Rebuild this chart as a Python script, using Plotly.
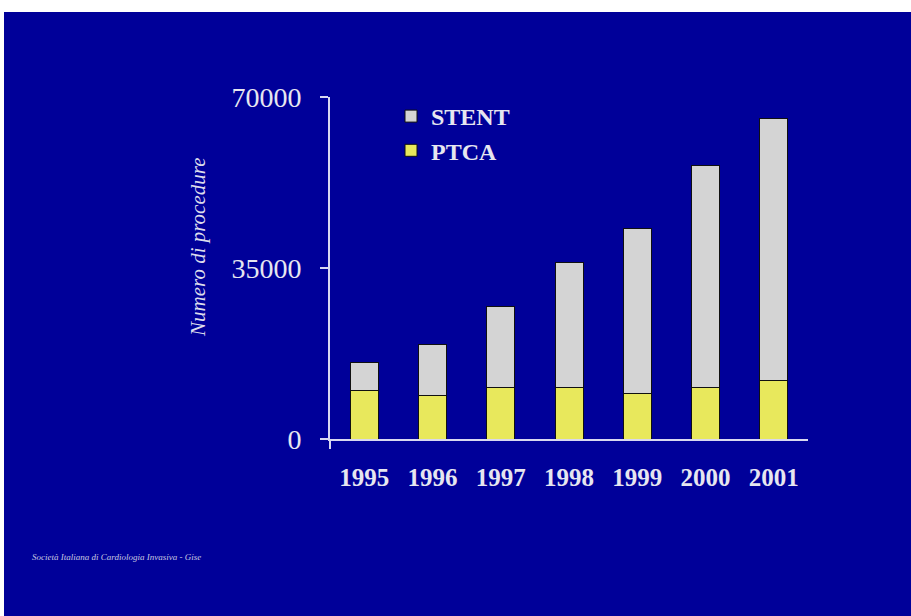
import plotly.graph_objects as go

# Procedure counts per year (stacked: PTCA at the base, STENT on top)
years = ["1995", "1996", "1997", "1998", "1999", "2000", "2001"]
ptca = [10000, 9000, 10600, 10600, 9400, 10600, 11900]
stent = [5700, 10400, 16500, 25600, 33600, 45300, 53600]
y_ticks = [0, 35000, 70000]

BG = "#000099"
FG = "#e6e6f0"
LINE = "#d8d8f0"

# plot-area geometry in pixels (used for placing decorations)
W, H = 911, 616
L, R, T, B = 330, 103, 97, 177
PW, PH = W - L - R, H - T - B


def px_x(p):
    return (p - L) / PW


def px_y(p):
    return (H - B - p) / PH


fig = go.Figure()
fig.add_trace(go.Bar(
    x=years, y=ptca, name="PTCA", legendrank=2,
    marker=dict(color="#e8e85c", line=dict(color="#101010", width=1)),
))
fig.add_trace(go.Bar(
    x=years, y=stent, name="STENT", legendrank=1,
    marker=dict(color="#d4d4d4", line=dict(color="#101010", width=1)),
))

serif = "Liberation Serif, Times New Roman, serif"

fig.update_layout(
    width=W, height=H,
    margin=dict(l=L, r=R, t=T, b=B, pad=0),
    paper_bgcolor=BG, plot_bgcolor=BG,
    barmode="stack", bargap=0.59,
    showlegend=True,
    legend=dict(
        x=px_x(391), xanchor="left",
        y=px_y(94), yanchor="top",
        bgcolor="rgba(0,0,0,0)",
        font=dict(family=serif, size=24, color=FG, weight="bold"),
        traceorder="normal",
        itemwidth=30,
    ),
    xaxis=dict(
        type="category", range=[-0.5, 6.5],
        showline=True, linecolor=LINE, linewidth=2,
        showgrid=False, ticks="", zeroline=False,
        tickfont=dict(family=serif, size=25, color=FG, weight="bold"),
        ticklabelstandoff=15,
    ),
    yaxis=dict(
        range=[0, 70000], tickvals=y_ticks,
        ticktext=[str(v) for v in y_ticks],
        showline=True, linecolor=LINE, linewidth=2,
        ticks="outside", ticklen=8, tickcolor=LINE, tickwidth=2,
        showgrid=False, zeroline=False,
        tickfont=dict(family=serif, size=28, color=FG),
        ticklabelstandoff=13,
    ),
    shapes=[
        # white strips along the top and left edges
        dict(type="rect", xref="paper", yref="paper", layer="above",
             x0=px_x(-5), x1=px_x(W + 5), y0=px_y(12), y1=px_y(-5),
             fillcolor="white", line=dict(width=0)),
        dict(type="rect", xref="paper", yref="paper", layer="above",
             x0=px_x(-5), x1=px_x(4), y0=px_y(H + 5), y1=px_y(-5),
             fillcolor="white", line=dict(width=0)),
        # axis extensions past the origin
        dict(type="line", xref="paper", yref="paper",
             x0=0, x1=0, y0=0, y1=px_y(449),
             line=dict(color=LINE, width=2)),
        dict(type="line", xref="paper", yref="paper",
             x0=px_x(322), x1=0, y0=0, y1=0,
             line=dict(color=LINE, width=2)),
    ],
    annotations=[
        dict(text="Numero di procedure", xref="paper", yref="paper",
             x=px_x(184), y=px_y(248), textangle=-90, showarrow=False,
             font=dict(family=serif, size=21, color="#dcdcec", style="italic")),
        dict(text="Società Italiana di Cardiologia Invasiva - Gise",
             xref="paper", yref="paper", x=px_x(30), y=px_y(557),
             xanchor="left", yanchor="middle", showarrow=False,
             font=dict(family=serif, size=9, color="#c8c8e0", style="italic")),
    ],
)

fig.write_html("out.html")
